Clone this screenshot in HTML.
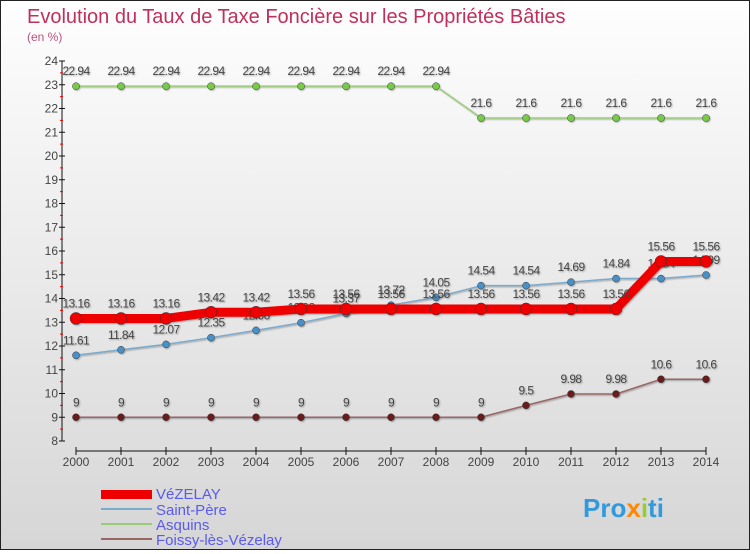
<!DOCTYPE html>
<html><head><meta charset="utf-8"><style>
body{margin:0;width:750px;height:550px;overflow:hidden;font-family:"Liberation Sans",sans-serif}
#wrap{position:relative;width:748px;height:548px;border:1px solid #222;background:linear-gradient(#fefefe,#d6d6d6)}
</style></head><body>
<div id="wrap">
<svg id="chart" width="748" height="548">
<defs><filter id="sh"><feDropShadow dx="1" dy="1" stdDeviation="0.8" flood-opacity="0.3"/></filter></defs>
<text x="26" y="22" font-size="20" fill="#c0305c">Evolution du Taux de Taxe Foncière sur les Propriétés Bâties</text>
<text x="26" y="40" font-size="12" fill="#c0507c">(en %)</text>
<g id="axes"></g><g id="series"></g>
<g>
<rect x="100" y="489" width="51" height="9" fill="#e00"/>
<text x="155" y="498" font-size="15" fill="#5a5aee">VéZELAY</text>
<rect x="100" y="507" width="51" height="2" fill="#7aaacc"/>
<text x="155" y="514" font-size="15" fill="#5a5aee">Saint-Père</text>
<rect x="100" y="522" width="51" height="2" fill="#99cc77"/>
<text x="155" y="529" font-size="15" fill="#5a5aee">Asquins</text>
<rect x="100" y="537" width="51" height="2" fill="#996666"/>
<text x="155" y="544" font-size="15" fill="#5a5aee">Foissy-lès-Vézelay</text>
</g>
<text x="582" y="516" font-size="26" font-weight="bold" fill="#3399dd">Pro<tspan fill="#ff8800">x</tspan><tspan fill="#99cc33">i</tspan>ti</text>
</svg>
</div>
<script>
const years=[2000,2001,2002,2003,2004,2005,2006,2007,2008,2009,2010,2011,2012,2013,2014];
const vezelay=[13.16,13.16,13.16,13.42,13.42,13.56,13.56,13.56,13.56,13.56,13.56,13.56,13.56,15.56,15.56];
const saintPere=[11.61,11.84,12.07,12.35,12.66,12.98,13.37,13.72,14.05,14.54,14.54,14.69,14.84,14.84,14.99];
const asquins=[22.94,22.94,22.94,22.94,22.94,22.94,22.94,22.94,22.94,21.6,21.6,21.6,21.6,21.6,21.6];
const foissy=[9,9,9,9,9,9,9,9,9,9,9.5,9.98,9.98,10.6,10.6];
const yTicks=[8,9,10,11,12,13,14,15,16,17,18,19,20,21,22,23,24];
const NS="http://www.w3.org/2000/svg";
const x=i=>75+i*45;
const y=v=>440-(v-8)*23.75;
function el(tag,attrs,parent,txt){const e=document.createElementNS(NS,tag);for(const k in attrs)e.setAttribute(k,attrs[k]);if(txt!==undefined)e.textContent=txt;parent.appendChild(e);return e;}
const ax=document.getElementById('axes');
const a1=el('line',{x1:61,y1:y(24),x2:61,y2:y(8),stroke:'#111'},ax);


yTicks.forEach(t=>{
 el('line',{x1:58,x2:64,y1:y(t),y2:y(t),stroke:'#111'},ax);
 if(t<24)el('line',{x1:59,x2:62,y1:y(t+0.5),y2:y(t+0.5),stroke:'#e00'},ax);
 const tl=el('text',{x:57,y:y(t)+4,'font-size':12,'text-anchor':'end',fill:'#444'},ax,t);
 
 
});
const a2=el('line',{x1:75,y1:450,x2:705,y2:450,stroke:'#111'},ax);


years.forEach((yr,i)=>{
 el('line',{x1:x(i),x2:x(i),y1:446,y2:454,stroke:'#111'},ax);
 const tl=el('text',{x:x(i),y:465,'font-size':12,'text-anchor':'middle',fill:'#444'},ax,yr);
 
 
});
const sg=document.getElementById('series');
function draw(vals,name,col,w,dot,r){
 const g=el('g',{filter:'url(#sh)'},sg);
 
 
 el('polyline',{points:vals.map((v,i)=>x(i)+','+y(v)).join(' '),fill:'none',stroke:col,'stroke-width':w,'stroke-linejoin':'round'},g);
 vals.forEach((v,i)=>{
  const c=el('circle',{cx:x(i),cy:y(v),r:r,fill:dot,stroke:'#333','stroke-width':0.5},g);
  
  
  const t=el('text',{x:x(i),y:y(v)-11,'font-size':12,'text-anchor':'middle',fill:'#444','letter-spacing':'-0.6'},g,v);
  
  
 });
}
draw(asquins,'asquins','#99cc77',1.5,'#77cc44',3.5);
draw(foissy,'foissy','#996666',1.5,'#6a1a1a',3.5);
draw(saintPere,'saint-pere','#7aaacc',1.5,'#4a90c8',3.5);
draw(vezelay,'vezelay','#ee0000',9,'#ee0000',6);
</script>
</body></html>
